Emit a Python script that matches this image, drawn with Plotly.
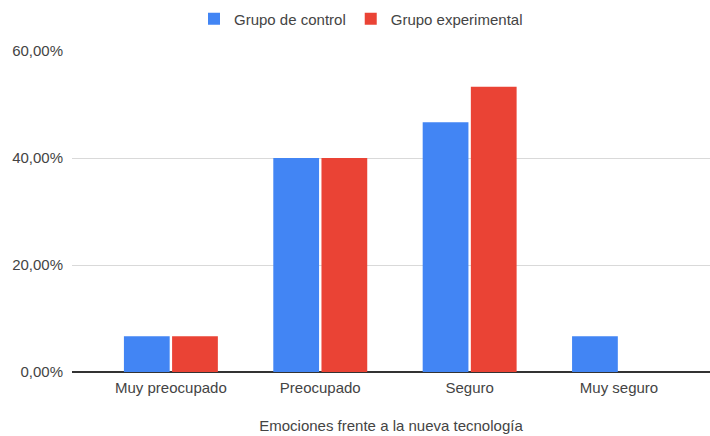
import plotly.graph_objects as go

categorias = ["Muy preocupado", "Preocupado", "Seguro", "Muy seguro"]
grupo_control = [0.0667, 0.40, 0.4667, 0.0667]
grupo_experimental = [0.0667, 0.40, 0.5333, 0.0]
ticks_y = [0, 0.2, 0.4, 0.6]

AZUL = "#4285F4"
ROJO = "#EA4335"
TEXTO = "#444444"
FUENTE = "Liberation Sans, Arial, sans-serif"

fig = go.Figure()
fig.add_trace(go.Bar(
    name="Grupo de control", x=categorias, y=grupo_control,
    marker=dict(color=AZUL, line=dict(width=0)),
))
fig.add_trace(go.Bar(
    name="Grupo experimental", x=categorias, y=grupo_experimental,
    marker=dict(color=ROJO, line=dict(width=0)),
))

fig.update_layout(
    width=710, height=436,
    margin=dict(l=72, r=0, t=51, b=64),
    paper_bgcolor="white", plot_bgcolor="white",
    separators=",.",
    barmode="group", bargap=0.355, bargroupgap=0.05,
    font=dict(family=FUENTE, size=15, color=TEXTO),
    showlegend=True,
    legend=dict(orientation="h", x=361 / 710, xanchor="center", xref="container",
                y=1 - 19 / 436, yanchor="middle", yref="container",
                font=dict(size=15, color=TEXTO), itemwidth=30,
                bgcolor="rgba(0,0,0,0)"),
    xaxis=dict(
        range=[-0.662, 3.609], showgrid=False, ticks="", showline=False,
        automargin=False, ticklabelstandoff=5,
        tickfont=dict(size=15, color=TEXTO),
        title=dict(text="Emociones frente a la nueva tecnología",
                   font=dict(size=15, color=TEXTO), standoff=25),
    ),
    yaxis=dict(
        range=[0, 0.6], tickvals=ticks_y, tickformat=".2%",
        showgrid=True, gridcolor="#d9d9d9", gridwidth=1,
        zeroline=True, zerolinecolor="#333333", zerolinewidth=1.5,
        ticks="", ticklabelstandoff=8, automargin=False,
        tickfont=dict(size=15, color=TEXTO),
    ),
)

fig.write_html("out.html")
